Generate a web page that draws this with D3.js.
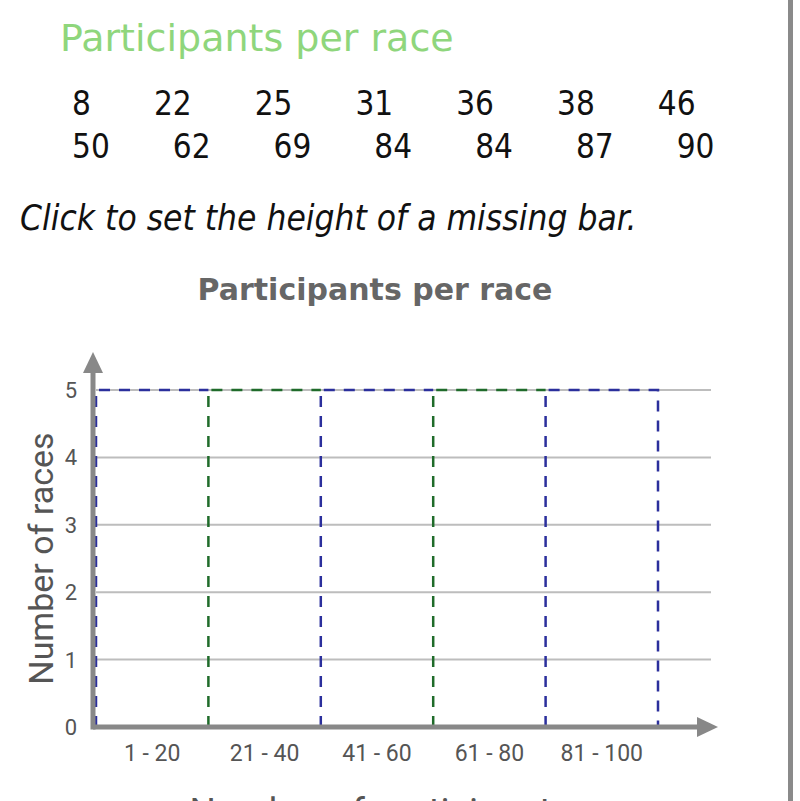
<!DOCTYPE html>
<html>
<head>
<meta charset="utf-8">
<script src="https://cdn.jsdelivr.net/npm/d3@7"></script>
<style>
  body { margin: 0; background: #fff; }
  svg { display: block; }
</style>
</head>
<body>
<svg id="main" width="800" height="801"></svg>
<script>
// data
var rowOne = [8, 22, 25, 31, 36, 38, 46];
var rowTwo = [50, 62, 69, 84, 84, 87, 90];
var bins = ["1 - 20", "21 - 40", "41 - 60", "61 - 80", "81 - 100"];
var binColors = ["#2b2f9c", "#1f6b2a", "#2b2f9c", "#1f6b2a", "#2b2f9c"];
var yTicks = [0, 1, 2, 3, 4, 5];
var yMax = 5;

var svg = d3.select("#main");

// right border of the page
svg.append("rect")
    .attr("x", 788).attr("y", 0)
    .attr("width", 5).attr("height", 801)
    .attr("fill", "#8a8a8a");

// header
svg.append("text")
    .attr("x", 60).attr("y", 51)
    .attr("font-family", "DejaVu Sans")
    .attr("font-size", 38)
    .attr("fill", "#8fd67c")
    .text("Participants per race");

function numberRow(values, y){
    var t = svg.append("text")
        .attr("x", 72).attr("y", y)
        .attr("font-family", "DejaVu Sans Condensed, DejaVu Sans")
        .attr("font-size", 33)
        .attr("fill", "#111");
    values.forEach(function(v, i){
        t.append("tspan")
            .attr("dx", i == 0 ? 0 : 63)
            .text(v);
    });
}
numberRow(rowOne, 115);
numberRow(rowTwo, 158);

svg.append("text")
    .attr("x", 20).attr("y", 230)
    .attr("font-family", "DejaVu Sans Condensed, DejaVu Sans")
    .attr("font-style", "italic")
    .attr("font-size", 35)
    .attr("fill", "#111")
    .text("Click to set the height of a missing bar.");

// chart
var plotLeft = 96, plotRight = 658, plotTop = 390, plotBottom = 727;

var x = d3.scaleBand().domain(bins).range([plotLeft, plotRight]).padding(0);
var y = d3.scaleLinear().domain([0, yMax]).range([plotBottom, plotTop]);

svg.append("text")
    .attr("x", 375).attr("y", 300)
    .attr("text-anchor", "middle")
    .attr("font-family", "DejaVu Sans")
    .attr("font-weight", "bold")
    .attr("font-size", 30)
    .attr("fill", "#666")
    .text("Participants per race");

// gridlines
svg.append("g")
    .selectAll("line")
    .data(yTicks.filter(function(d){ return d > 0; }))
    .enter()
    .append("line")
    .attr("x1", plotLeft).attr("x2", 711)
    .attr("y1", function(d){ return y(d); })
    .attr("y2", function(d){ return y(d); })
    .attr("stroke", "#bdbdbd")
    .attr("stroke-width", 2);

// y tick labels
svg.append("g")
    .selectAll("text")
    .data(yTicks)
    .enter()
    .append("text")
    .attr("x", 71)
    .attr("y", function(d){ return y(d) + 8; })
    .attr("text-anchor", "middle")
    .attr("font-family", "Roboto")
    .attr("font-size", 22)
    .attr("fill", "#555")
    .text(function(d){ return d; });

// missing bar outlines (clickable slots): left + top edge, last one closes on the right
svg.append("g")
    .selectAll("path")
    .data(bins)
    .enter()
    .append("path")
    .attr("d", function(d, i){
        var x0 = x(d), x1 = x(d) + x.bandwidth();
        var p = "M" + x0 + "," + y(0) + " V" + y(yMax) + " H" + x1;
        if(i == bins.length - 1) p += " V" + y(0);
        return p;
    })
    .attr("fill", "none")
    .attr("stroke", function(d, i){ return binColors[i]; })
    .attr("stroke-width", 2.5)
    .attr("stroke-dasharray", "11,9");

// x labels
svg.append("g")
    .selectAll("text")
    .data(bins)
    .enter()
    .append("text")
    .attr("x", function(d){ return x(d) + x.bandwidth() / 2; })
    .attr("y", 761)
    .attr("text-anchor", "middle")
    .attr("font-family", "Roboto")
    .attr("font-size", 23)
    .attr("fill", "#555")
    .text(function(d){ return d; });

// axes with arrows
var axisColor = "#888";
var axisX = plotLeft - 3;
svg.append("line")
    .attr("x1", axisX).attr("x2", 700)
    .attr("y1", plotBottom).attr("y2", plotBottom)
    .attr("stroke", axisColor).attr("stroke-width", 5);
svg.append("path")
    .attr("d", "M697," + (plotBottom - 10) + " L718," + plotBottom + " L697," + (plotBottom + 10) + " Z")
    .attr("fill", axisColor);
svg.append("line")
    .attr("x1", axisX).attr("x2", axisX)
    .attr("y1", plotBottom + 2.5).attr("y2", 370)
    .attr("stroke", axisColor).attr("stroke-width", 5);
svg.append("path")
    .attr("d", "M" + (axisX - 10) + ",373 L" + axisX + ",352 L" + (axisX + 10) + ",373 Z")
    .attr("fill", axisColor);

// axis titles
svg.append("text")
    .attr("transform", "translate(53," + (plotTop + plotBottom) / 2 + ") rotate(-90)")
    .attr("text-anchor", "middle")
    .attr("font-family", "Roboto")
    .attr("font-size", 34)
    .attr("fill", "#555")
    .text("Number of races");

svg.append("text")
    .attr("x", 380).attr("y", 824)
    .attr("text-anchor", "middle")
    .attr("font-family", "Roboto")
    .attr("font-size", 37)
    .attr("fill", "#555")
    .text("Number of participants");
</script>
</body>
</html>
